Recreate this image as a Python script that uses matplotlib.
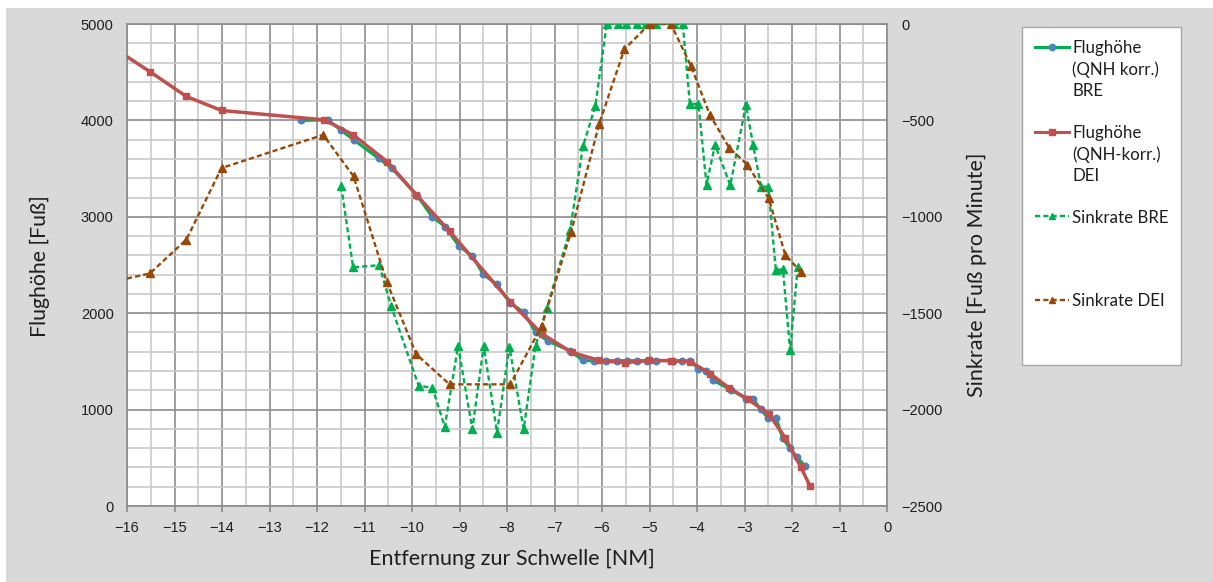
import matplotlib
matplotlib.use('Agg')
import matplotlib.pyplot as plt
from matplotlib.ticker import MultipleLocator
from matplotlib.patches import Rectangle
from matplotlib.lines import Line2D

# ---------------- data ----------------
bre_x = [-12.33, -11.77, -11.49, -11.23, -10.70, -10.43, -9.89, -9.58, -9.30, -9.01,
         -8.73, -8.50, -8.21, -7.94, -7.65, -7.40, -7.14, -6.68, -6.40, -6.16,
         -5.91, -5.68, -5.48, -5.27, -5.05, -4.86, -4.51, -4.32, -4.15, -3.97,
         -3.81, -3.66, -3.29, -2.97, -2.82, -2.66, -2.50, -2.33, -2.20, -2.05,
         -1.89, -1.72]
bre_alt = [3999, 4006, 3896, 3799, 3605, 3506, 3220, 3002, 2897, 2694,
           2595, 2402, 2298, 2108, 2011, 1804, 1711, 1612, 1510, 1504,
           1508, 1508, 1508, 1508, 1508, 1508, 1508, 1504, 1504, 1425,
           1401, 1304, 1206, 1115, 1108, 1004, 908, 908, 708, 600,
           504, 411]

dei_x = [-16.0, -15.52, -14.75, -14.01, -11.85, -11.24, -10.52, -9.91, -9.21, -7.93,
         -7.27, -6.64, -6.07, -5.52, -5.01, -4.54, -4.14, -3.72, -3.32, -2.93,
         -2.49, -2.14, -1.82, -1.62]
dei_alt = [4661, 4506, 4248, 4103, 4006, 3851, 3570, 3230, 2850, 2118,
           1788, 1595, 1511, 1487, 1510, 1508, 1497, 1373, 1222, 1108,
           956, 706, 409, 207]

bre_sink_x = [-11.49, -11.24, -10.69, -10.44, -9.86, -9.57, -9.31, -9.03, -8.73, -8.49,
              -8.21, -7.95, -7.65, -7.40, -7.16, -6.67, -6.40, -6.14, -5.90, -5.67,
              -5.49, -5.27, -5.07, -4.86, -4.48, -4.30, -4.15, -3.97, -3.80, -3.62,
              -3.30, -2.97, -2.82, -2.65, -2.50, -2.34, -2.19, -2.04, -1.88]
bre_sink = [-842, -1262, -1251, -1463, -1877, -1886, -2090, -1670, -2101, -1670,
            -2119, -1674, -2101, -1670, -1472, -1066, -635, -424, 0, 0,
            0, 0, 0, 0, 0, 0, -414, -414, -833, -626,
            -836, -419, -626, -845, -843, -1277, -1272, -1693, -1260]

dei_sink_x = [-16.0, -15.52, -14.75, -14.01, -11.87, -11.23, -10.53, -9.91, -9.21, -7.93,
              -7.27, -6.65, -6.06, -5.53, -5.0, -4.55, -4.13, -3.73, -3.32, -2.94,
              -2.49, -2.14, -1.81]
dei_sink = [-1320, -1294, -1118, -747, -575, -790, -1339, -1713, -1869, -1869,
            -1567, -1078, -518, -131, 0, 0, -216, -471, -643, -730,
            -905, -1198, -1287]

labels = ["Flughöhe\n(QNH korr.)\nBRE", "Flughöhe\n(QNH-korr.)\nDEI",
          "Sinkrate BRE\n\n", "Sinkrate DEI\n\n"]
xlabel = "Entfernung zur Schwelle [NM]"
ylabel_left = "Flughöhe [Fuß]"
ylabel_right = "Sinkrate [Fuß pro Minute]"

# ---------------- style ----------------
W, H = 1213, 582
c_green = '#00B050'
c_blue = '#4F81BD'
c_red = '#C0504D'
c_brown = '#984807'
c_major = '#8C8C8C'
c_minor = '#C9C9C9'
c_text = '#1E1E1E'
tick_font = 'Liberation Sans'
title_font = 'Lato'

fig = plt.figure(figsize=(W / 100, H / 100), dpi=100)
fig.patch.set_facecolor('white')
fig.patches.append(Rectangle((6 / W, 0), 1 - 6 / W, 1 - 8 / H, transform=fig.transFigure,
                             facecolor='#D9D9D9', edgecolor='none', zorder=-10))

L, R, T, B = 127, 887, 24, 506
ax = fig.add_axes([L / W, 1 - B / H, (R - L) / W, (B - T) / H])
ax.set_facecolor('white')
ax.set_xlim(-16, 0)
ax.set_ylim(0, 5000)
ax.xaxis.set_major_locator(MultipleLocator(1))
ax.xaxis.set_minor_locator(MultipleLocator(0.5))
ax.yaxis.set_major_locator(MultipleLocator(1000))
ax.yaxis.set_minor_locator(MultipleLocator(200))
ax.grid(which='major', color=c_major, lw=1.2)
ax.grid(which='minor', color=c_minor, lw=1.2)
ax.set_axisbelow(True)
for s in ax.spines.values():
    s.set_color(c_major)
    s.set_linewidth(1.2)
ax.tick_params(which='minor', length=0)
ax.tick_params(axis='x', which='major', length=4, width=1.2, color=c_major, pad=7,
               labelsize=10.5, labelcolor=c_text)
ax.tick_params(axis='y', which='major', length=0, pad=9.5, labelsize=10.5, labelcolor=c_text)
for lab in ax.get_xticklabels() + ax.get_yticklabels():
    lab.set_fontfamily(tick_font)

ax.plot(bre_x, bre_alt, color=c_green, lw=2.2, marker='o', ms=4.7,
        mfc=c_blue, mec=c_blue, label=labels[0], zorder=3)
ax.plot(dei_x, dei_alt, color=c_red, lw=2.5, marker='s', ms=4.5,
        mfc=c_red, mec=c_red, markevery=list(range(1, len(dei_x))), label=labels[1], zorder=4)

ax2 = ax.twinx()
ax2.set_ylim(-2500, 0)
ax2.yaxis.set_major_locator(MultipleLocator(500))
ax2.tick_params(axis='y', length=0, pad=10.5, labelsize=10.5, labelcolor=c_text)
for s in ax2.spines.values():
    s.set_visible(False)
for lab in ax2.get_yticklabels():
    lab.set_fontfamily(tick_font)

ax2.plot(bre_sink_x, bre_sink, color=c_green, lw=1.7, ls=(0, (2.2, 1.3)), marker='^', ms=5.5,
         mfc=c_green, mec=c_green, label=labels[2], zorder=5)
ax2.plot(dei_sink_x, dei_sink, color=c_brown, lw=1.7, ls=(0, (2.2, 1.3)), marker='^', ms=5.5,
         mfc=c_brown, mec=c_brown, markevery=list(range(1, len(dei_sink_x))),
         label=labels[3], zorder=6)

# axis titles
xl = ax.set_xlabel(xlabel, fontfamily=title_font, fontsize=15, color=c_text)
yl = ax.set_ylabel(ylabel_left, fontfamily=title_font, fontsize=15, color=c_text)
yr = ax2.set_ylabel(ylabel_right, fontfamily=title_font, fontsize=15, color=c_text)
ax.xaxis.set_label_coords((512 - L) / (R - L), (B - 559) / (B - T))
xl.set_va('center')
ax.yaxis.set_label_coords((40 - L) / (R - L), (B - 266) / (B - T))
yl.set_va('center')
ax2.yaxis.set_label_coords((977 - L) / (R - L), (B - 275) / (B - T))
yr.set_va('center')

fig.canvas.draw()
rend = fig.canvas.get_renderer()


def fit(txt, target, dim):
    bb = txt.get_window_extent(rend)
    cur = bb.width if dim == 'w' else bb.height
    txt.set_fontsize(txt.get_fontsize() * target / cur)


fit(xl, 285, 'w')
fit(yl, 142, 'h')
fit(yr, 244, 'h')

# legend font size from target width of "Sinkrate BRE"
tmp = fig.text(0, 0, "Sinkrate BRE", fontfamily=title_font, fontsize=10)
fig.canvas.draw()
lfs = 10 * 96 / tmp.get_window_extent(rend).width
tmp.remove()
fs_px = lfs * 100 / 72

h1 = Line2D([], [], color=c_green, lw=2.2, marker='o', ms=4.5, mfc=c_blue, mec=c_blue)
h2 = Line2D([], [], color=c_red, lw=2.2, marker='s', ms=4.3, mfc=c_red, mec=c_red)
h3 = Line2D([], [], color=c_green, lw=1.7, ls=(0, (2.2, 1.3)), marker='^', ms=4.5, mfc=c_green, mec=c_green)
h4 = Line2D([], [], color=c_brown, lw=1.7, ls=(0, (2.2, 1.3)), marker='^', ms=4.5, mfc=c_brown, mec=c_brown)

lx0, ly0, lx1, ly1 = 1022, 27, 1181, 363
leg = fig.legend([h1, h2, h3, h4], labels, loc='upper left',
                 bbox_to_anchor=(lx0 / W, 1 - ly1 / H, (lx1 - lx0) / W, (ly1 - ly0) / H),
                 bbox_transform=fig.transFigure, mode='expand',
                 prop={'family': title_font, 'size': lfs},
                 handlelength=34 / fs_px, handleheight=1.0, handletextpad=3 / fs_px,
                 borderpad=0.8, borderaxespad=0, labelspacing=1.52, fancybox=False,
                 framealpha=1, edgecolor='#A6A6A6', facecolor='white')
leg.get_frame().set_linewidth(1.0)
for t in leg.get_texts():
    t.set_color(c_text)
    t.set_linespacing(1.39)
# align each handle with the first line of its (multi-line) label
for col in leg._legend_handle_box.get_children():
    for row in col.get_children():
        row.align = 'top'

fig.savefig('out.png', dpi=100, facecolor=fig.get_facecolor())
